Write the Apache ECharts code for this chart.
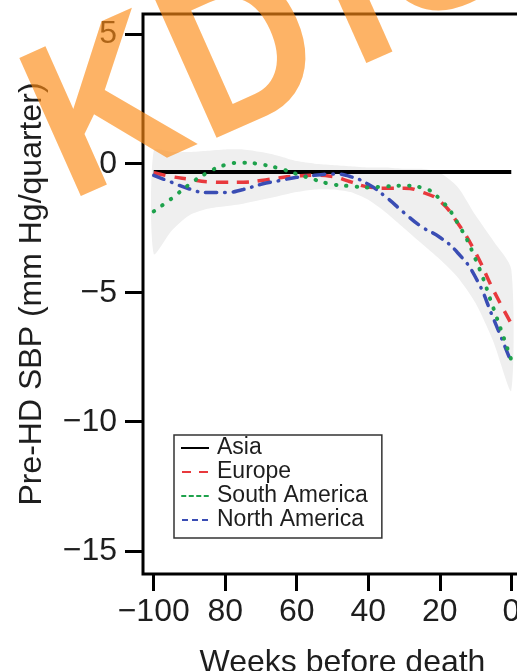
<!DOCTYPE html>
<html>
<head>
<meta charset="utf-8">
<script src="https://cdn.jsdelivr.net/npm/echarts@6/dist/echarts.min.js"></script>
<style>html,body{margin:0;padding:0;background:#fff}#c{width:517px;height:671px}</style>
</head>
<body>
<div id="c"></div>
<script>
var weeks = [-100,-95,-90,-85,-80,-75,-70,-65,-60,-55,-50,-45,-40,-35,-30,-25,-20,-15,-10,-5,0];
var asia         = [-0.32,-0.32,-0.32,-0.32,-0.32,-0.32,-0.32,-0.32,-0.32,-0.32,-0.32,-0.32,-0.32,-0.32,-0.32,-0.32,-0.32,-0.32,-0.32,-0.32,-0.32];
var europe       = [-0.35,-0.5,-0.6,-0.7,-0.72,-0.72,-0.65,-0.55,-0.48,-0.45,-0.5,-0.7,-0.9,-0.95,-0.95,-1.1,-1.45,-2.3,-3.45,-4.9,-6.2];
var southAmerica = [-1.85,-1.35,-0.8,-0.35,-0.05,0.04,-0.03,-0.18,-0.4,-0.62,-0.8,-0.87,-0.92,-0.88,-0.85,-0.93,-1.37,-2.3,-3.7,-5.6,-7.6];
var northAmerica = [-0.45,-0.72,-0.98,-1.12,-1.12,-1.0,-0.8,-0.66,-0.53,-0.45,-0.4,-0.5,-0.8,-1.3,-1.9,-2.45,-2.85,-3.45,-4.4,-6.0,-7.7];
var bandUpper = [0.5,0.45,0.45,0.5,0.55,0.55,0.45,0.3,0.1,0.0,-0.05,-0.1,-0.15,-0.15,-0.2,-0.2,-0.35,-0.9,-2.0,-3.0,-4.1];
var bandLower = [-3.5,-2.6,-2.0,-1.75,-1.65,-1.55,-1.4,-1.25,-1.1,-1.0,-1.0,-1.1,-1.4,-1.9,-2.5,-3.1,-3.7,-4.4,-5.4,-6.9,-8.8];
var xTickValues = [-100,-80,-60,-40,-20,0];
var xTickLabels = ['\u2212100','80','60','40','20','0'];
var yTickValues = [5,0,-5,-10,-15];
var yTickLabels = ['5','0','\u22125','\u221210','\u221215'];
var legendNames = ['Asia','Europe','South America','North America'];
var watermarkLetters = ['K','D','I','G','O'];

function pairs(vals){ return weeks.map(function(w,i){ return [w, vals[i]]; }); }

var chart = echarts.init(document.getElementById('c'), null, {renderer:'canvas'});
var FONT = '"Liberation Sans", Arial, Helvetica, sans-serif';
var TXT = '#1e1e1e';

var legendIcons = {
  'Asia': 'path://M0,0h28v2h-28z',
  'Europe': 'path://M0,0h9v2h-9z M17,0h9v2h-9z',
  'South America': 'path://M0,0h5v2h-5z M7.5,0h5v2h-5z M15,0h5v2h-5z M22.5,0h5v2h-5z',
  'North America': 'path://M0,0h6v2h-6z M10,0h6v2h-6z M20,0h6v2h-6z'
};

// watermark layout (rotated baseline)
var wmAngle = 24 * Math.PI / 180;
var wmAnchors = [[44,146],[179.9,87.8],[329.5,13],[373.9,-23],[514.6,-80]];
var watermark = watermarkLetters.map(function(ch, i){
  return {type: 'text', x: wmAnchors[i][0], y: wmAnchors[i][1], rotation: wmAngle, scaleX: 0.9, z: 100, silent: true,
    style: {text: ch, x: 0, y: 0, fill: 'rgb(252,138,20)', opacity: 0.65,
      font: 'bold 220px ' + FONT, textAlign: 'left', textVerticalAlign: 'middle'}};
});

chart.setOption({
  animation: false,
  grid: {left: 143, top: 14, width: 379, height: 560, show: true, borderColor: '#000', borderWidth: 3,
         backgroundColor: 'transparent', containLabel: false, outerBoundsMode: 'none'},
  xAxis: {
    type: 'value', min: -103, max: 3,
    name: 'Weeks before death', nameLocation: 'middle', nameGap: 73,
    nameTextStyle: {fontFamily: FONT, fontSize: 32, color: TXT, padding: [0,0,0,20]},
    axisLine: {show: false, onZero: false},
    splitLine: {show: false},
    axisTick: {show: true, length: 17, lineStyle: {color: '#000', width: 3}, customValues: xTickValues},
    axisLabel: {show: true, margin: 22, fontFamily: FONT, fontSize: 32, color: TXT, customValues: xTickValues,
      formatter: function(v){ var i = xTickValues.indexOf(v); return i >= 0 ? xTickLabels[i] : ''; }}
  },
  yAxis: {
    type: 'value', min: -15.9, max: 5.8,
    name: 'Pre-HD SBP (mm Hg/quarter)', nameLocation: 'middle', nameGap: 95, nameRotate: 90,
    nameTextStyle: {fontFamily: FONT, fontSize: 32, color: TXT},
    axisLine: {show: false, onZero: false},
    splitLine: {show: false},
    axisTick: {show: true, length: 18, lineStyle: {color: '#000', width: 3}, customValues: yTickValues},
    axisLabel: {show: true, margin: 26, fontFamily: FONT, fontSize: 32, color: TXT, customValues: yTickValues,
      formatter: function(v){ var i = yTickValues.indexOf(v); return i >= 0 ? yTickLabels[i] : ''; }}
  },
  legend: {
    data: legendNames.map(function(n){ return {name: n, icon: legendIcons[n]}; }),
    orient: 'vertical', left: 174, top: 435,
    itemWidth: 28, itemHeight: 2, itemGap: 0,
    padding: [1, 14, 6, 7],
    borderColor: '#333', borderWidth: 1.5, backgroundColor: '#fff',
    textStyle: {fontFamily: FONT, fontSize: 23, color: TXT, lineHeight: 24, padding: [0,0,0,3]}
  },
  series: [
    {name: 'band', type: 'custom', silent: true, z: 1, data: [[weeks[0], bandUpper[0]]],
     renderItem: function(params, api){
       var pts = [];
       for (var i = 0; i < weeks.length; i++) pts.push(api.coord([weeks[i], bandUpper[i]]));
       for (var j = weeks.length - 1; j >= 0; j--) pts.push(api.coord([weeks[j], bandLower[j]]));
       return {type: 'polygon', shape: {points: pts, smooth: 0.25}, style: {fill: '#efefef', stroke: null}};
     }},
    {name: 'Asia', type: 'line', data: pairs(asia), symbol: 'none', z: 3,
     lineStyle: {color: '#000', width: 4}, itemStyle: {color: '#000'}},
    {name: 'Europe', type: 'line', data: pairs(europe), symbol: 'none', smooth: true, z: 4,
     lineStyle: {color: '#e8393d', width: 3.5, type: [12, 9]}, itemStyle: {color: '#e8393d'}},
    {name: 'South America', type: 'line', data: pairs(southAmerica), symbol: 'none', smooth: true, z: 5,
     lineStyle: {color: '#1ea24c', width: 4, type: [0.5, 10], cap: 'round'}, itemStyle: {color: '#1ea24c'}},
    {name: 'North America', type: 'line', data: pairs(northAmerica), symbol: 'none', smooth: true, z: 4,
     lineStyle: {color: '#3a4db4', width: 3.5, type: [11, 8, 0.5, 8], cap: 'round'}, itemStyle: {color: '#3a4db4'}}
  ],
  graphic: watermark
});
</script>
</body>
</html>
